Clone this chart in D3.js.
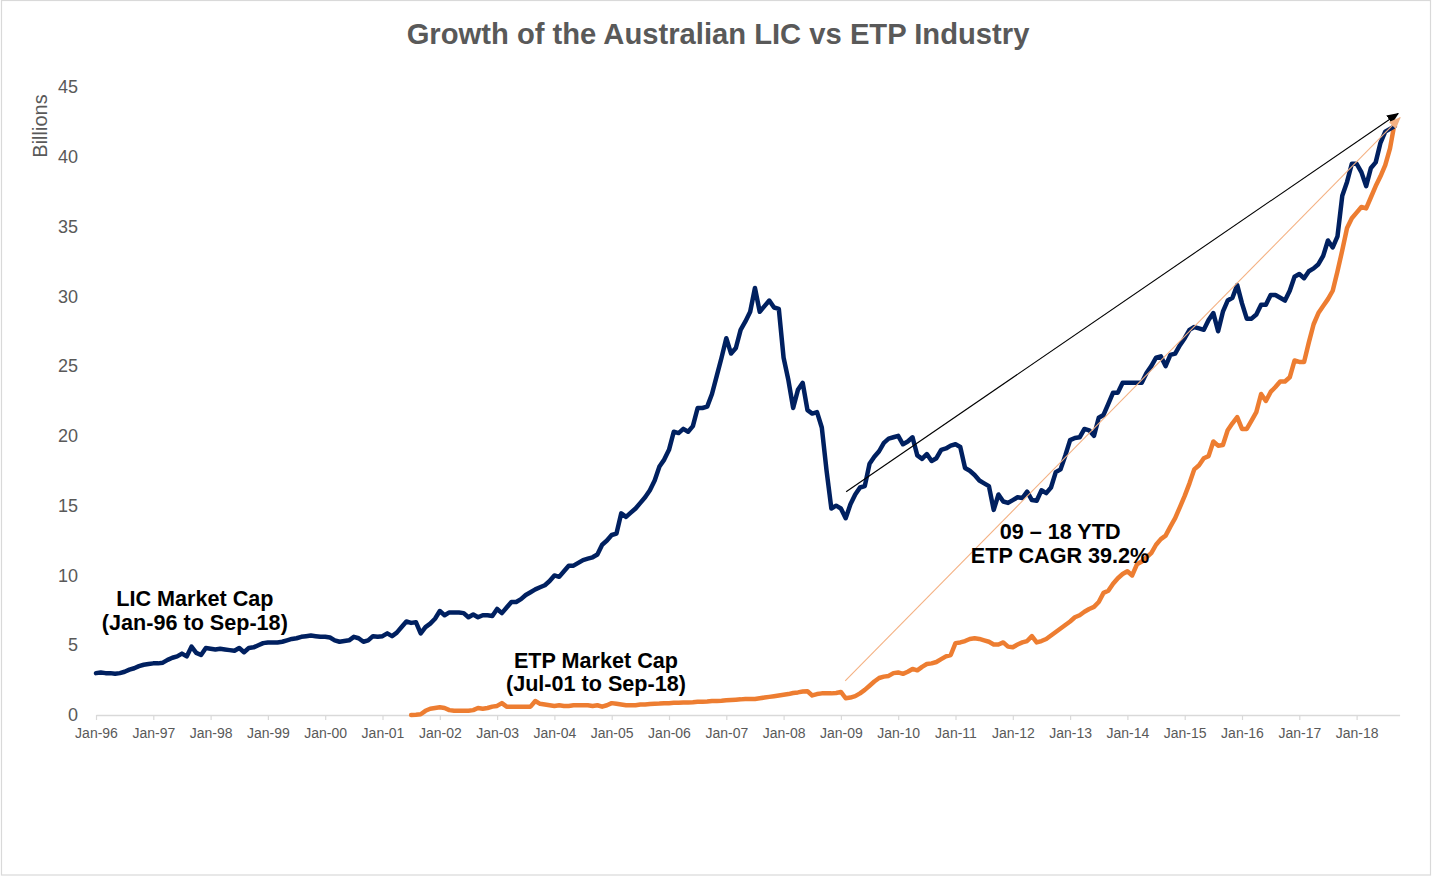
<!DOCTYPE html>
<html><head><meta charset="utf-8">
<script src="https://cdn.jsdelivr.net/npm/d3@7/dist/d3.min.js"></script>
<style>
body{margin:0;background:#fff;}
svg{display:block;font-family:"Liberation Sans",Arial,Helvetica,sans-serif;}
</style>
</head><body>
<svg id="chart" width="1433" height="877"></svg>
<script>
// ---------- DATA ----------
const chartTitle = "Growth of the Australian LIC vs ETP Industry";
const yAxisTitle = "Billions";
const xTickLabels = ["Jan-96","Jan-97","Jan-98","Jan-99","Jan-00","Jan-01","Jan-02","Jan-03","Jan-04","Jan-05","Jan-06","Jan-07","Jan-08","Jan-09","Jan-10","Jan-11","Jan-12","Jan-13","Jan-14","Jan-15","Jan-16","Jan-17","Jan-18"];
const yTickValues = [0,5,10,15,20,25,30,35,40,45];

// months counted from Jan-96
const licStartMonth = 0;   // Jan-96
const etpStartMonth = 66;  // Jul-01

// LIC market cap, monthly, Jan-96 .. Sep-18 (A$ billions)
const licValues = [
 3.0,3.05,3.0,3.0,2.95,3.0,3.1,3.25,3.35,3.5,3.6,3.65,
 3.7,3.7,3.75,3.95,4.1,4.2,4.4,4.2,4.9,4.45,4.3,4.8,
 4.75,4.7,4.75,4.7,4.65,4.6,4.8,4.5,4.8,4.85,5.0,5.15,
 5.2,5.2,5.2,5.25,5.35,5.45,5.5,5.6,5.65,5.7,5.65,5.6,
 5.6,5.55,5.35,5.25,5.3,5.35,5.6,5.5,5.25,5.35,5.65,5.6,
 5.65,5.85,5.65,5.9,6.3,6.7,6.6,6.65,5.85,6.3,6.55,6.9,
 7.45,7.15,7.35,7.35,7.35,7.3,7.0,7.2,7.0,7.15,7.15,7.1,
 7.6,7.3,7.7,8.1,8.1,8.3,8.6,8.8,9.0,9.15,9.3,9.6,
 10.0,9.9,10.3,10.7,10.7,10.9,11.1,11.2,11.3,11.5,12.2,12.5,
 12.9,13.0,14.45,14.2,14.5,14.8,15.2,15.6,16.1,16.8,17.8,18.3,
 19.0,20.3,20.2,20.5,20.3,20.7,22.0,22.0,22.1,23.0,24.3,25.6,
 27.0,25.9,26.3,27.6,28.2,28.9,30.6,28.9,29.3,29.7,29.2,29.1,
 25.6,24.0,22.0,23.3,23.8,21.85,21.6,21.7,20.6,17.5,14.8,15.0,
 14.8,14.1,15.1,15.8,16.3,16.4,18.0,18.5,18.9,19.5,19.8,19.9,
 20.0,19.4,19.6,19.9,18.6,18.35,18.7,18.2,18.4,19.0,19.1,19.3,
 19.4,19.2,17.7,17.5,17.2,16.8,16.6,16.4,14.7,15.8,15.3,15.2,
 15.4,15.6,15.55,16.0,15.4,15.35,16.1,15.9,16.3,17.4,17.6,18.6,
 19.7,19.85,19.9,20.5,20.4,20.0,21.3,21.5,22.3,23.1,23.1,23.8,
 23.8,23.8,23.8,23.8,24.5,25.0,25.6,25.7,25.0,25.8,25.9,26.5,
 27.0,27.6,27.8,27.7,27.6,28.3,28.8,27.5,28.9,29.7,29.9,30.8,
 29.5,28.4,28.4,28.7,29.4,29.4,30.1,30.1,29.9,29.7,30.4,31.4,
 31.6,31.3,31.8,32.0,32.3,32.9,34.0,33.5,34.3,37.2,38.2,39.5,
 39.5,38.9,37.9,39.2,39.6,41.0,41.8,42.0,42.2
];

// ETP market cap, monthly, Jul-01 .. Sep-18 (A$ billions)
const etpValues = [
 0.0,0.02,0.05,0.3,0.45,0.5,
 0.55,0.5,0.35,0.3,0.3,0.3,0.3,0.35,0.5,0.45,0.5,0.6,
 0.65,0.85,0.6,0.6,0.6,0.6,0.6,0.6,1.0,0.8,0.75,0.7,
 0.65,0.7,0.65,0.65,0.7,0.7,0.7,0.7,0.65,0.7,0.6,0.7,
 0.85,0.8,0.75,0.7,0.7,0.7,0.75,0.75,0.78,0.8,0.82,0.85,
 0.85,0.87,0.88,0.9,0.9,0.92,0.95,0.95,0.97,1.0,1.0,1.02,
 1.05,1.08,1.1,1.12,1.15,1.15,1.15,1.2,1.25,1.3,1.35,1.4,
 1.45,1.5,1.58,1.62,1.68,1.7,1.4,1.5,1.55,1.55,1.55,1.58,
 1.65,1.2,1.25,1.35,1.55,1.8,2.1,2.4,2.65,2.75,2.8,3.0,
 3.05,2.95,3.1,3.3,3.2,3.45,3.65,3.7,3.8,4.0,4.2,4.3,
 5.15,5.2,5.3,5.45,5.5,5.45,5.35,5.25,5.05,5.05,5.2,4.9,
 4.85,5.05,5.2,5.3,5.65,5.2,5.3,5.45,5.7,5.95,6.2,6.45,
 6.7,7.0,7.15,7.4,7.6,7.75,8.1,8.75,8.9,9.4,9.8,10.1,
 10.3,10.0,10.8,11.0,11.3,11.6,12.2,12.6,12.85,13.5,14.1,14.9,
 15.7,16.6,17.6,17.9,18.4,18.55,19.6,19.3,19.35,20.4,20.9,21.35,
 20.5,20.5,21.1,21.7,23.0,22.5,23.15,23.5,23.9,23.9,24.2,25.4,
 25.3,25.3,26.7,28.0,28.8,29.3,29.8,30.4,31.8,33.3,34.9,35.6,
 36.0,36.4,36.3,37.1,37.9,38.6,39.4,40.6,42.5
];

// trend arrows (month index, value)
const arrowStarts = [[157.1, 16.0], [156.9, 2.44]];
const arrowEnds   = [[272.7, 43.1], [273.1, 42.8]];
const arrowNames  = ["lic", "etp"];

// annotation labels (month index, value at first baseline)
const labelLines = [["LIC Market Cap","(Jan-96 to Sep-18)"],["ETP Market Cap","(Jul-01 to Sep-18)"],["09 \u2013 18 YTD","ETP CAGR 39.2%"]];
const labelAnchors = [[20.7, 7.81], [104.7, 3.37], [201.9, 12.6]];

// ---------- STYLE / LAYOUT ----------
const W = 1433, H = 877;
const plotLeft = 96, plotBottom = 715, plotTop = 87;
const pxPerMonth = 4.775;
const colors = {lic:"#002060", etp:"#ED7D31", etpArrow:"#F4B183", arrow:"#000000", text:"#595959", axis:"#D9D9D9"};

const svg = d3.select("#chart");
svg.append("rect").attr("x",1.5).attr("y",0.5).attr("width",W-4).attr("height",H-2.5)
  .attr("fill","#fff").attr("stroke","#D9D9D9").attr("stroke-width",1.2);

const x = d3.scaleLinear().domain([0, 273]).range([plotLeft, plotLeft + 273*pxPerMonth]);
const y = d3.scaleLinear().domain([0, 45]).range([plotBottom, plotTop]);

// title
svg.append("text").attr("x", 718).attr("y", 44).attr("text-anchor","middle")
  .attr("font-size", 29.2).attr("font-weight","bold").attr("fill", colors.text).text(chartTitle);

// y axis title
svg.append("text").attr("transform","translate(47,126) rotate(-90)").attr("text-anchor","middle")
  .attr("font-size", 20).attr("fill", colors.text).text(yAxisTitle);

// y axis (labels only)
const yAxis = svg.append("g").attr("transform",`translate(78,0)`)
  .call(d3.axisLeft(y).tickValues(yTickValues).tickSize(0).tickPadding(0).tickFormat(d3.format("d")));
yAxis.select(".domain").remove();
yAxis.selectAll("text").attr("font-size", 18).attr("fill", colors.text).attr("font-family","Liberation Sans, Arial, sans-serif");

// x axis
const xTickVals = xTickLabels.map((d,i)=> i*12);
const xAxis = svg.append("g").attr("transform",`translate(0,${plotBottom})`)
  .call(d3.axisBottom(x).tickValues(xTickVals).tickSizeInner(5).tickSizeOuter(0).tickPadding(8)
    .tickFormat((d,i)=> xTickLabels[i]));
xAxis.select(".domain").attr("stroke", colors.axis).attr("stroke-width", 1.6);
xAxis.selectAll(".tick line").attr("stroke", colors.axis).attr("stroke-width", 1.2);
xAxis.selectAll("text").attr("font-size", 14).attr("fill", colors.text).attr("font-family","Liberation Sans, Arial, sans-serif");

// lines
const line = d3.line().x(d=>x(d.m)).y(d=>y(d.v));
const licData = licValues.map((v,i)=>({m: licStartMonth+i, v}));
const etpData = etpValues.map((v,i)=>({m: etpStartMonth+i, v}));

svg.append("path").datum(etpData).attr("d", line).attr("fill","none")
  .attr("stroke", colors.etp).attr("stroke-width", 4.5).attr("stroke-linejoin","round").attr("stroke-linecap","round");
svg.append("path").datum(licData).attr("d", line).attr("fill","none")
  .attr("stroke", colors.lic).attr("stroke-width", 4.5).attr("stroke-linejoin","round").attr("stroke-linecap","round");

// arrow markers
const defs = svg.append("defs");
[["lic", colors.arrow], ["etp", colors.etpArrow]].forEach(([id,c])=>{
  defs.append("marker").attr("id","arr-"+id).attr("markerUnits","userSpaceOnUse")
    .attr("viewBox","0 0 12 10").attr("refX",11).attr("refY",5)
    .attr("markerWidth",12).attr("markerHeight",10).attr("orient","auto")
    .append("path").attr("d","M0,0 L12,5 L0,10 Z").attr("fill", c);
});
arrowNames.forEach((n,i)=>{
  svg.append("line")
    .attr("x1", x(arrowStarts[i][0])).attr("y1", y(arrowStarts[i][1]))
    .attr("x2", x(arrowEnds[i][0])).attr("y2", y(arrowEnds[i][1]))
    .attr("stroke", n==="lic" ? colors.arrow : colors.etpArrow).attr("stroke-width", 1.1)
    .attr("marker-end", `url(#arr-${n})`);
});

// annotation labels
labelLines.forEach((lines,i)=>{
  const t = svg.append("text").attr("text-anchor","middle").attr("font-size", 21.6)
    .attr("font-weight","bold").attr("fill","#000");
  lines.forEach((s,j)=>{
    t.append("tspan").attr("x", x(labelAnchors[i][0])).attr("y", y(labelAnchors[i][1]) + j*23.5).text(s);
  });
});
</script>
</body></html>
